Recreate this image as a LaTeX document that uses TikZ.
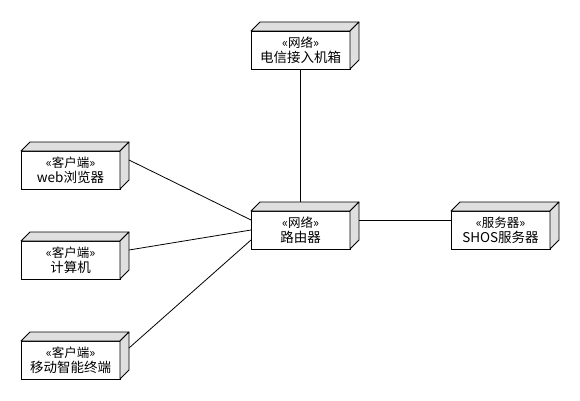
\documentclass[tikz,border=0pt]{standalone}
\usepackage{fontspec}
\newfontfamily\cjk{Noto Sans CJK SC}
\usetikzlibrary{positioning}

\newcommand{\stereo}[1]{{\fontsize{12.5}{15}\selectfont «#1»}}

\begin{document}
\begin{tikzpicture}[x=1pt, y=1pt,
    uml node/.style={rectangle, draw, line width=0.8pt, outer sep=0pt, inner sep=0pt, minimum width=99pt, minimum height=38pt, align=center, font=\cjk\fontsize{13.5}{15}\selectfont},
    uml side/.style={draw, line width=0.8pt, fill=gray!25, line join=round},
    uml link/.style={line width=0.8pt}]

    \useasboundingbox (0,0) rectangle (580,400);

    \node [uml node] (router) at (300.5,170) {\stereo{网络}\\路由器};
    \node [uml node, above=142pt of router] (box) {\stereo{网络}\\电信接入机箱};
    \node [uml node, right=101pt of router] (server) {\stereo{服务器}\\SHOS服务器};

    \node [uml node, left=131pt of router, yshift=-30pt] (pc) {\stereo{客户端}\\计算机};
    \node [uml node, above=52pt of pc] (web) {\stereo{客户端}\\web浏览器};
    \node [uml node, below=62pt of pc] (mobile) {\stereo{客户端}\\移动智能终端};

    % depth faces of the boxes
    \foreach \n in {router,box,server,pc,web,mobile} {
        \draw [uml side] (\n.north west) -- ++(9,9) -- ++(99,0) -- (\n.north east) -- cycle;
        \draw [uml side] (\n.north east) -- ++(9,9) -- ++(0,-38) -- (\n.south east) -- cycle;
    }

    \draw [uml link] (box.south) -- ([yshift=9pt]router.north);
    \draw [uml link] ([shift={(9pt,10pt)}]web.east) -- ([yshift=10pt]router.west);
    \draw [uml link] ([shift={(9pt,10pt)}]pc.east) -- (router.west);
    \draw [uml link] ([shift={(9pt,12pt)}]mobile.east) -- ([yshift=-10pt]router.west);
    \draw [uml link] ([shift={(9pt,10pt)}]router.east) -- ([yshift=10pt]server.west);

\end{tikzpicture}
\end{document}
